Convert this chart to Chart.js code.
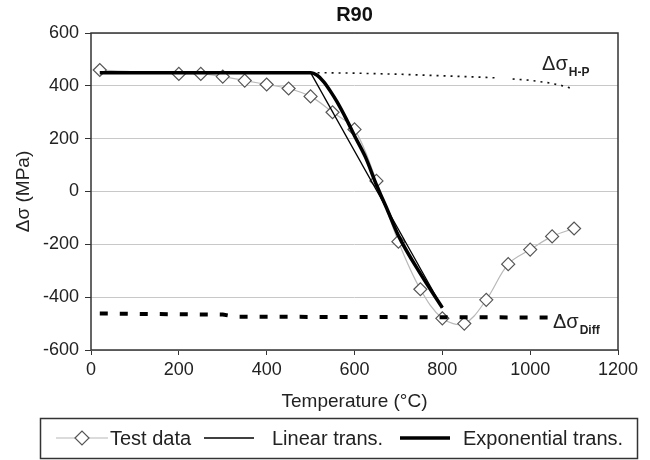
<!DOCTYPE html>
<html><head><meta charset="utf-8">
<script src="https://cdn.jsdelivr.net/npm/chart.js@4.4.0/dist/chart.umd.min.js"></script>
<style>html,body{margin:0;padding:0;background:#fff}#wrap{width:650px;height:460px;position:relative}</style>
</head><body><div id="wrap"><canvas id="c" width="650" height="460"></canvas></div>
<script>
// ---- data ----
const chartTitle = 'R90';
const xTitle = 'Temperature (°C)';
const yTitle = 'Δσ (MPa)';
const xTicks = [0, 200, 400, 600, 800, 1000, 1200];
const yTicks = [-600, -400, -200, 0, 200, 400, 600];

const testT      = [20, 200, 250, 300, 350, 400, 450, 500, 550, 600, 650, 700, 750, 800, 850, 900, 950, 1000, 1050, 1100];
const testStress = [460, 445, 445, 435, 420, 405, 390, 360, 300, 235, 40, -190, -370, -480, -500, -410, -275, -220, -170, -140];

const linearT      = [500, 800];
const linearStress = [450, -440];

const expT      = [20, 500, 515, 530, 545, 560, 582, 600, 625, 650, 675, 700, 750, 800];
const expStress = [450, 450, 440, 415, 380, 340, 272, 211, 130, 25, -70, -167, -311, -440];

const hpT      = [500, 600, 700, 800, 900, 925, 940, 960, 1000, 1040, 1070, 1095];
const hpStress = [450, 448, 444, 438, 432, 430, null, 426, 421, 412, 402, 390];

const diffT      = [20, 300, 330, 1070];
const diffStress = [-462, -466, -474, -477];

const legendLabels = ['Test data', 'Linear trans.', 'Exponential trans.'];
const hpLabel = ['Δσ', 'H-P'];
const diffLabel = ['Δσ', 'Diff'];

// ---- helpers ----
const pts = (xs, ys) => xs.map((v, i) => ({x: v, y: ys[i]}));
const FONT = "'Liberation Sans', Arial, sans-serif";
Chart.defaults.font.family = FONT;
Chart.defaults.color = '#222';

function subText(ctx, x, y, main, sub) {
  ctx.font = '20px ' + FONT;
  ctx.textAlign = 'left';
  ctx.textBaseline = 'alphabetic';
  ctx.fillStyle = '#222';
  ctx.fillText(main, x, y);
  const w = ctx.measureText(main).width;
  ctx.font = 'bold 12px ' + FONT;
  ctx.fillText(sub, x + w + 1, y + 6);
}

const decor = {
  id: 'decor',
  beforeDatasetsDraw(chart) {
    const {ctx, chartArea: a} = chart;
    ctx.save();
    ctx.strokeStyle = '#333';
    ctx.lineWidth = 1.5;
    ctx.strokeRect(a.left, a.top, a.right - a.left, a.bottom - a.top);
    ctx.restore();
  },
  afterDraw(chart) {
    const {ctx, chartArea: a, scales: {x, y}} = chart;
    ctx.save();
    // title
    ctx.font = 'bold 20px ' + FONT;
    ctx.fillStyle = '#111';
    ctx.textAlign = 'center';
    ctx.textBaseline = 'middle';
    ctx.fillText(chartTitle, (a.left + a.right) / 2, 15);
    // series annotations
    subText(ctx, x.getPixelForValue(1027), y.getPixelForValue(461), hpLabel[0], hpLabel[1]);
    subText(ctx, x.getPixelForValue(1052), y.getPixelForValue(-517), diffLabel[0], diffLabel[1]);
    // legend box
    const ly = 438;
    ctx.strokeStyle = '#333';
    ctx.lineWidth = 1.5;
    ctx.strokeRect(40.5, 418.5, 597, 40);
    // test data sample
    ctx.strokeStyle = '#b8b8b8'; ctx.lineWidth = 1.2;
    ctx.beginPath(); ctx.moveTo(56, ly); ctx.lineTo(108, ly); ctx.stroke();
    ctx.fillStyle = '#fff'; ctx.strokeStyle = '#555';
    ctx.beginPath(); ctx.moveTo(75, ly); ctx.lineTo(82, ly - 7); ctx.lineTo(89, ly); ctx.lineTo(82, ly + 7); ctx.closePath();
    ctx.fill(); ctx.stroke();
    // linear sample
    ctx.strokeStyle = '#000'; ctx.lineWidth = 1.3;
    ctx.beginPath(); ctx.moveTo(204, ly); ctx.lineTo(254, ly); ctx.stroke();
    // exponential sample
    ctx.lineWidth = 3.5;
    ctx.beginPath(); ctx.moveTo(400, ly); ctx.lineTo(450, ly); ctx.stroke();
    ctx.font = '20px ' + FONT;
    ctx.fillStyle = '#222';
    ctx.textAlign = 'left';
    ctx.textBaseline = 'middle';
    ctx.fillText(legendLabels[0], 110, ly + 1);
    ctx.fillText(legendLabels[1], 272, ly + 1);
    ctx.fillText(legendLabels[2], 463, ly + 1);
    ctx.restore();
  }
};

new Chart(document.getElementById('c'), {
  type: 'scatter',
  data: {
    datasets: [
      {label: legendLabels[0], data: pts(testT, testStress), showLine: true,
       borderColor: '#b8b8b8', borderWidth: 1.2, tension: 0.35,
       pointStyle: 'rectRot', pointRadius: 6.5, pointBorderColor: '#555',
       pointBackgroundColor: '#fff', pointBorderWidth: 1.2, order: 5},
      {label: legendLabels[1], data: pts(linearT, linearStress), showLine: true,
       borderColor: '#000', borderWidth: 1.3, pointRadius: 0, order: 3},
      {label: legendLabels[2], data: pts(expT, expStress), showLine: true,
       borderColor: '#000', borderWidth: 3.5, pointRadius: 0, cubicInterpolationMode: 'monotone', order: 1},
      {label: 'H-P', data: pts(hpT, hpStress), showLine: true, spanGaps: false,
       borderColor: '#111', borderWidth: 1.6, borderDash: [2, 5], pointRadius: 0, order: 2},
      {label: 'Diff', data: pts(diffT, diffStress), showLine: true,
       borderColor: '#000', borderWidth: 4, borderDash: [8, 12], pointRadius: 0, order: 2}
    ]
  },
  options: {
    responsive: false,
    animation: false,
    layout: {padding: {left: 0, right: 32, top: 33, bottom: 45}},
    plugins: {legend: {display: false}, tooltip: {enabled: false}, title: {display: false}},
    scales: {
      x: {
        type: 'linear', min: 0, max: 1200,
        afterBuildTicks: s => { s.ticks = xTicks.map(v => ({value: v})); },
        afterFit: s => { s.height = 65; },
        ticks: {font: {size: 18}, color: '#222', padding: 4, callback: v => String(v)},
        grid: {drawOnChartArea: false, drawTicks: true, tickLength: 5, tickColor: '#333'},
        border: {display: false},
        title: {display: true, text: xTitle, font: {size: 19}, color: '#222', padding: {top: 0, bottom: 2}}
      },
      y: {
        type: 'linear', min: -600, max: 600,
        afterBuildTicks: s => { s.ticks = yTicks.map(v => ({value: v})); },
        afterFit: s => { s.width = 91; },
        ticks: {font: {size: 18}, color: '#222', padding: 6, callback: v => String(v)},
        grid: {color: '#c8c8c8', lineWidth: 1, drawTicks: true, tickLength: 6, tickColor: '#333'},
        border: {display: false},
        title: {display: true, text: yTitle, font: {size: 19}, color: '#222', padding: {top: 12, bottom: 0}}
      }
    }
  },
  plugins: [decor]
});
</script>
</body></html>
